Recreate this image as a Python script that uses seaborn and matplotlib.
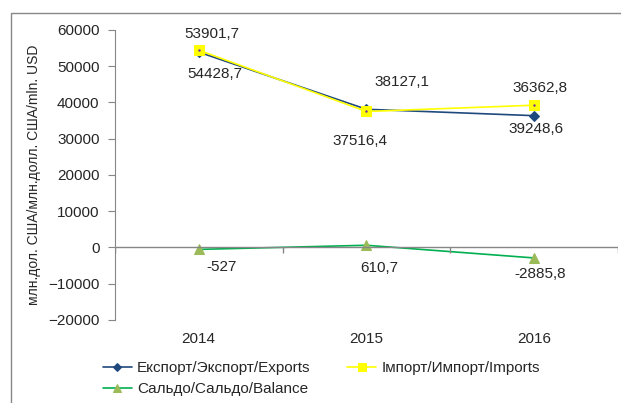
import numpy as np
import pandas as pd
import matplotlib.pyplot as plt
import seaborn as sns
from matplotlib.patches import Rectangle

# data
years = ['2014', '2015', '2016']
exports = [53901.7, 38127.1, 36362.8]
imports = [54428.7, 37516.4, 39248.6]
balance = [-527.0, 610.7, -2885.8]
labels = {
    'exp': 'Експорт/Экспорт/Exports',
    'imp': 'Імпорт/Импорт/Imports',
    'bal': 'Сальдо/Сальдо/Balance',
}

sns.set_style("white")
plt.rcParams['font.family'] = ['Liberation Sans', 'DejaVu Sans']
plt.rcParams['font.size'] = 11

fig = plt.figure(figsize=(6.21, 4.03), dpi=100)
ax = fig.add_axes([0.185, 0.206, 0.81, 0.7196])

x = np.arange(len(years))
df = pd.DataFrame({'x': x, 'exp': exports, 'imp': imports, 'bal': balance})

sns.lineplot(data=df, x='x', y='exp', ax=ax, color='#1F497D', lw=1.2,
             marker='D', markersize=5.5, markeredgecolor='#1F497D',
             label=labels['exp'])
sns.lineplot(data=df, x='x', y='bal', ax=ax, color='#00B050', lw=1.2,
             marker='^', markersize=7, markerfacecolor='#9BBB59',
             markeredgecolor='#9BBB59', label=labels['bal'])
sns.lineplot(data=df, x='x', y='imp', ax=ax, color='#FFFF00', lw=1.2,
             marker='s', markersize=6.5, markerfacecolor='#FFFF00',
             markeredgecolor='#FFFF00', label=labels['imp'])
# tiny dot in the centre of import markers
ax.plot(x, imports, ls='none', marker='.', markersize=1.5, color='#7030A0')

ax.set_xlim(-0.5, len(years) - 0.5)
ax.set_ylim(-20000, 60000)
ax.set_yticks(np.arange(-20000, 60001, 10000))
ax.set_xticks(x)
ax.set_xticklabels(years)
ax.set_xlabel('')
ax.set_ylabel('млн.дол. США/млн.долл. США/mln. USD', fontsize=10, labelpad=5)

for side in ['top', 'right', 'bottom']:
    ax.spines[side].set_visible(False)
ax.spines['left'].set_color('#868686')
ax.tick_params(axis='y', left=True, length=5, color='#868686', pad=6)
ax.tick_params(axis='x', bottom=False, pad=5)

# category axis sitting on zero
ax.axhline(0, color='#868686', lw=1)
bounds = np.arange(len(years) + 1) - 0.5
ax.vlines(bounds, -1400, 0, color='#868686', lw=1)

# data labels
exp_off = [(13, 18), (36, 27), (6, 28)]
imp_off = [(16, -24), (-6, -30), (2, -24)]
bal_off = [(23, -18), (13, -23), (6, -16)]
for i in range(len(years)):
    ax.annotate(f'{exports[i]:.1f}'.replace('.', ','), (x[i], exports[i]),
                xytext=exp_off[i], textcoords='offset pixels',
                ha='center', va='center')
    ax.annotate(f'{imports[i]:.1f}'.replace('.', ','), (x[i], imports[i]),
                xytext=imp_off[i], textcoords='offset pixels',
                ha='center', va='center')
    b = f'{balance[i]:.1f}'.replace('.', ',')
    if b.endswith(',0'):
        b = b[:-2]
    ax.annotate(b, (x[i], balance[i]), xytext=bal_off[i],
                textcoords='offset pixels', ha='center', va='center')

# legend below
h, l = ax.get_legend_handles_labels()
ax.get_legend().remove()
fig.legend(h, l, ncol=2, loc='upper left', bbox_to_anchor=(0.143, 0.138),
           frameon=False, handlelength=1.9, handletextpad=0.35,
           columnspacing=2.4, labelspacing=0.45, fontsize=11, markerscale=0.8)

# outer chart border
fig.add_artist(Rectangle((11 / 621, -0.1), 1.2, 1.1 - 13 / 403,
                         transform=fig.transFigure, fill=False,
                         edgecolor='#888888', lw=1))

fig.savefig('out.png', dpi=100)
